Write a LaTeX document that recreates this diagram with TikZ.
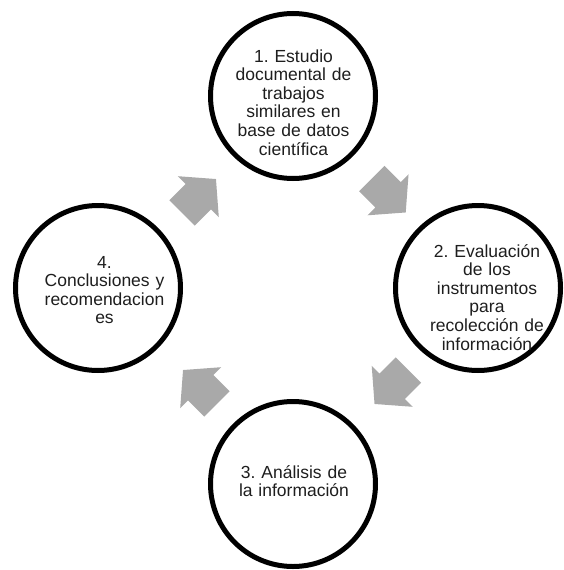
\documentclass[tikz,border=0pt]{standalone}
\usepackage{fontspec}
\setmainfont{Liberation Sans}
\frenchspacing
\definecolor{arrowgray}{RGB}{169,169,169}
\definecolor{textdark}{RGB}{30,30,30}
\begin{document}
\begin{tikzpicture}[x=1pt,y=-1pt,
  stage/.style={circle,draw=black,line width=5pt,minimum size=165pt,inner sep=0pt},
  stagetext/.style={text width=150pt,align=center,anchor=base,inner sep=0pt,
    font=\fontsize{17.5}{18.6}\selectfont\frenchspacing,text=textdark},
  cyclearrow/.pic={\fill[arrowgray] (-24,-18) -- (-1,-18) -- (-1,-29) -- (24,0)
     -- (-1,29) -- (-1,18) -- (-24,18) -- cycle;}]
\useasboundingbox (0,0) rectangle (564,570);
% circles
\node[stage] (c1) at (293,96) {};
\node[stage] (c2) at (478,288) {};
\node[stage] (c3) at (293,484) {};
\node[stage] (c4) at (98,288) {};
% texts
\node[stagetext] (t1) at (293.5,62) {1. Estudio\\documental de\\trabajos\\similares en\\base de datos\\científica};
\node[stagetext] (t2) at (487,257) {2. Evaluación\\de los\\instrumentos\\para\\recolección de\\información};
\node[stagetext] (t3) at (294,478) {3. Análisis de\\la información};
\node[stagetext] (t4) at (104.5,268) {4.\\Conclusiones y\\recomendacion\\es};
% arrows
\pic[rotate=45] (a1) at (199,196) {cyclearrow};
\pic[rotate=-45] (a2) at (388.75,195.5) {cyclearrow};
\pic[rotate=-135] (a3) at (391.5,387) {cyclearrow};
\pic[rotate=135] (a4) at (200,387) {cyclearrow};
\end{tikzpicture}
\end{document}
